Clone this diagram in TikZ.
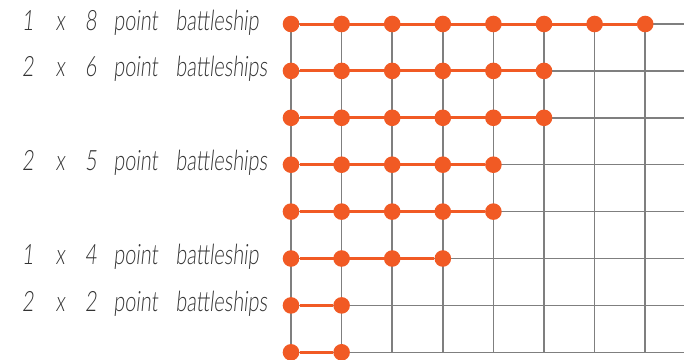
\documentclass[tikz,border=0pt]{standalone}
\usepackage{fontspec}
\newfontfamily\hand{Lato}[UprightFont={* Light}, FakeStretch=0.71, FakeSlant=0.1]
\definecolor{ship}{HTML}{F15A24}
\definecolor{gridc}{HTML}{7F7F7F}
\definecolor{txt}{HTML}{333333}
\begin{document}
\begin{tikzpicture}[x=1pt,y=-1pt,
  gridline/.style={draw=gridc,line width=1.5pt},
  dot/.style={circle,fill=ship,minimum size=16.6pt,inner sep=0pt},
  shipline/.style={draw=ship,line width=3pt},
  lbl/.style={anchor=base west,font=\hand\fontsize{28}{30}\selectfont,text=txt,inner sep=0pt}]
\useasboundingbox (0,0) rectangle (684,359);
% grid
\foreach \i in {0,...,7} \draw[gridline] ({291+50.6*\i},24) -- ({291+50.6*\i},352.3);
\foreach \j in {0,...,7} \draw[gridline] (291,{24+46.9*\j}) -- (684,{24+46.9*\j});
% ships
\foreach \n [count=\j from 0] in {8,6,6,5,5,4,2,2} {
  \foreach \i in {1,...,\n}
    \node[dot] (d\j-\i) at ({291+50.6*(\i-1)},{24+46.9*\j}) {};
  \draw[shipline] (d\j-1) -- (d\j-\n);
}
% labels
\node[lbl] (l0) at (22,30) {1\hspace{22pt}x\hspace{20pt}8\hspace{17pt}point\hspace{18pt}battleship};
\node[lbl] (l1) at (22,76.9) {2\hspace{22pt}x\hspace{20pt}6\hspace{17pt}point\hspace{18pt}battleships};
\node[lbl] (l3) at (22,170.7) {2\hspace{22pt}x\hspace{20pt}5\hspace{17pt}point\hspace{18pt}battleships};
\node[lbl] (l5) at (22,264.5) {1\hspace{22pt}x\hspace{20pt}4\hspace{17pt}point\hspace{18pt}battleship};
\node[lbl] (l6) at (22,311.4) {2\hspace{22pt}x\hspace{20pt}2\hspace{17pt}point\hspace{18pt}battleships};
\end{tikzpicture}
\end{document}
